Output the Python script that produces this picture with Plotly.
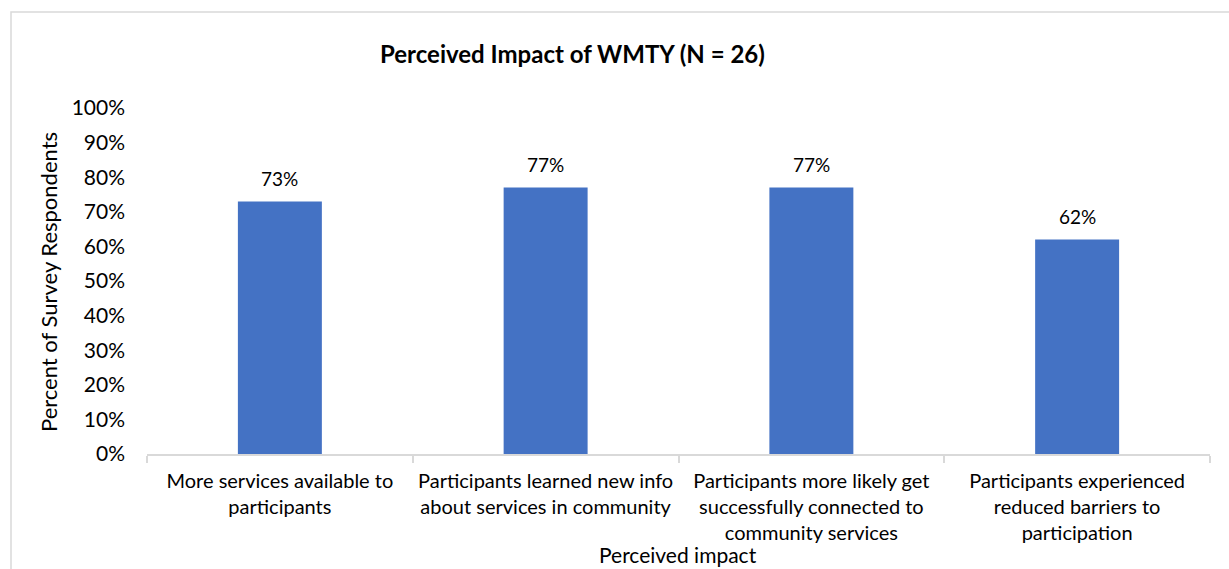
import plotly.graph_objects as go

# Survey results
categories = [
    "More services available to<br>participants",
    "Participants learned new info<br>about services in community",
    "Participants more likely get<br>successfully connected to<br>community services",
    "Participants experienced<br>reduced barriers to<br>participation",
]
percent = [73, 77, 77, 62]
y_ticks = list(range(0, 101, 10))
y_tick_labels = [f"{v}%" for v in y_ticks]

W, H = 1229, 569
L, R, T, B = 147, 19, 108, 115
pw, ph = W - L - R, H - T - B

def px_x(x):
    return (x - L) / pw

def px_y(y):
    return (H - B - y) / ph

FONT = "Lato"
TXT = "#000000"
GRID = "#d9d9d9"

fig = go.Figure()
fig.add_trace(go.Bar(
    x=categories,
    y=percent,
    marker=dict(color="#4472C4", line=dict(width=0)),
    width=0.316,
    hoverinfo="skip",
))

# value labels above bars
for c, v in zip(categories, percent):
    fig.add_annotation(
        x=c, y=v, xref="x", yref="y",
        text=f"{v}%", showarrow=False,
        yshift=23, yanchor="middle",
        font=dict(family=FONT, size=19, color=TXT),
    )

# chart title
fig.add_annotation(
    x=px_x(572), y=px_y(53), xref="paper", yref="paper",
    text="<b>Perceived Impact of WMTY (N = 26)</b>", showarrow=False,
    xanchor="center", yanchor="middle",
    font=dict(family=FONT, size=24, color=TXT),
)

# axis titles
fig.add_annotation(
    x=px_x(48), y=px_y(282), xref="paper", yref="paper",
    text="Percent of Survey Respondents", showarrow=False, textangle=-90,
    xanchor="center", yanchor="middle",
    font=dict(family=FONT, size=22, color=TXT),
)
fig.add_annotation(
    x=px_x(678), y=px_y(554), xref="paper", yref="paper",
    text="Perceived impact", showarrow=False,
    xanchor="center", yanchor="middle",
    font=dict(family=FONT, size=21, color=TXT),
)

# chart-area border
fig.add_shape(
    type="rect", xref="paper", yref="paper",
    x0=px_x(11), x1=px_x(1240), y0=px_y(12), y1=px_y(580),
    line=dict(color=GRID, width=1.5), fillcolor="rgba(0,0,0,0)",
)

fig.update_layout(
    width=W, height=H,
    margin=dict(l=L, r=R, t=T, b=B, pad=0),
    paper_bgcolor="white", plot_bgcolor="white",
    showlegend=False,
    xaxis=dict(
        type="category",
        showline=True, linecolor=GRID, linewidth=1.5,
        ticks="outside", tickson="boundaries", ticklen=7, tickcolor=GRID, tickwidth=1.5,
        showgrid=False, zeroline=False,
        tickfont=dict(family=FONT, size=20, color=TXT),
        ticklabelstandoff=8,
    ),
    yaxis=dict(
        range=[0, 100],
        tickvals=y_ticks, ticktext=y_tick_labels,
        showline=False, showgrid=False, zeroline=False, ticks="",
        tickfont=dict(family=FONT, size=21, color=TXT),
        ticklabelstandoff=21,
    ),
)

fig.write_html("out.html")
